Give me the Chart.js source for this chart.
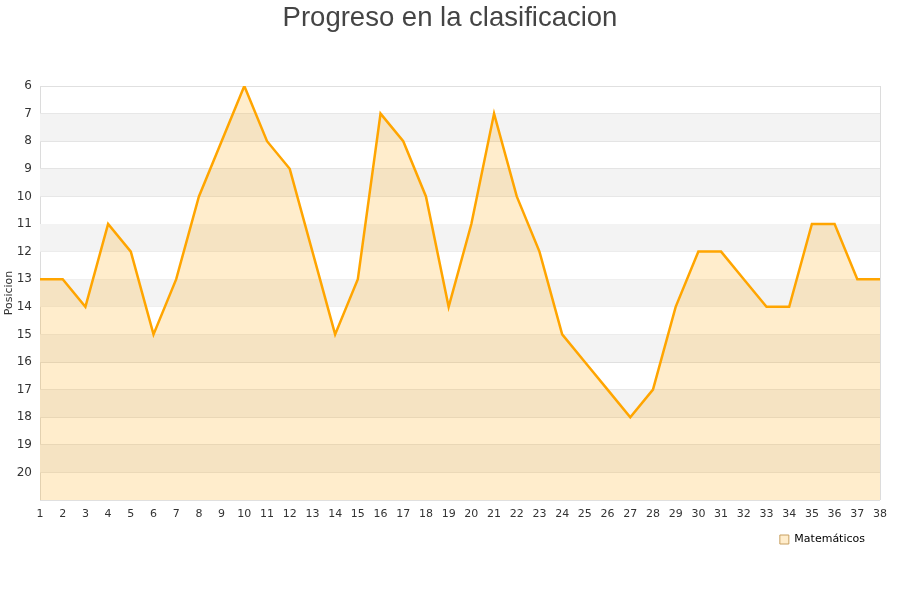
<!DOCTYPE html>
<html>
<head>
<meta charset="utf-8">
<script src="https://cdn.jsdelivr.net/npm/chart.js@4/dist/chart.umd.min.js"></script>
<style>
  html, body { margin: 0; padding: 0; background: #fff; }
  #wrap { width: 900px; height: 600px; }
</style>
</head>
<body>
<div id="wrap"><canvas id="grafico"></canvas></div>
<script>
// Jornadas y posiciones
const jornadas = ['1','2','3','4','5','6','7','8','9','10','11','12','13','14','15','16','17','18','19',
  '20','21','22','23','24','25','26','27','28','29','30','31','32','33','34','35','36','37','38'];
const posiciones = [13, 13, 14, 11, 12, 15, 13, 10, 8, 6, 8, 9, 12, 15, 13, 7, 8, 10, 14,
  11, 7, 10, 12, 15, 16, 17, 18, 17, 14, 12, 12, 13, 14, 14, 11, 11, 13, 13];
const posMin = 6;
const posMax = 21;
const titulo = 'Progreso en la clasificacion';

// Bandas grises alternas (7-8, 9-10, ...)
const bandas = {
  id: 'bandas',
  beforeDatasetsDraw(chart) {
    const { ctx, chartArea, scales } = chart;
    ctx.save();
    ctx.fillStyle = '#f3f3f3';
    for (let v = posMin + 1; v < posMax; v += 2) {
      const y1 = scales.y.getPixelForValue(v);
      const y2 = scales.y.getPixelForValue(v + 1);
      ctx.fillRect(chartArea.left, y1, chartArea.right - chartArea.left, y2 - y1);
    }
    ctx.restore();
  }
};

// Titulo centrado en todo el lienzo
const tituloCentrado = {
  id: 'tituloCentrado',
  afterDraw(chart) {
    const ctx = chart.ctx;
    ctx.save();
    ctx.font = '27.5px "Liberation Sans", Arial';
    ctx.fillStyle = '#444';
    ctx.textAlign = 'center';
    ctx.textBaseline = 'alphabetic';
    ctx.fillText(titulo, chart.width / 2, 26);
    ctx.restore();
  }
};

new Chart(document.getElementById('grafico'), {
  type: 'line',
  data: {
    labels: jornadas,
    datasets: [{
      label: 'Matemáticos',
      data: posiciones,
      borderColor: '#ffa500',
      backgroundColor: 'rgba(255,165,0,0.2)',
      borderWidth: 2.5,
      pointRadius: 0,
      tension: 0,
      fill: { value: posMax }
    }]
  },
  options: {
    responsive: true,
    maintainAspectRatio: false,
    animation: false,
    layout: { padding: { top: 86, left: 3, right: 20, bottom: 45 } },
    plugins: {
      title: { display: false },
      legend: {
        position: 'bottom',
        align: 'end',
        labels: {
          color: '#222',
          font: { family: '"DejaVu Sans"', size: 11 },
          boxWidth: 9,
          boxHeight: 9,
          padding: 15,
          generateLabels: () => [{
            text: 'Matemáticos',
            fillStyle: 'rgba(255,165,0,0.2)',
            strokeStyle: '#c8a060',
            lineWidth: 1
          }]
        }
      },
      tooltip: { enabled: false }
    },
    scales: {
      x: {
        offset: false,
        afterFit: (s) => { s.height = 19; },
        grid: {
          color: (c) => (c.index === 0 || c.index === jornadas.length - 1) ? '#dcdcdc' : 'rgba(0,0,0,0)',
          drawTicks: false
        },
        border: { display: false },
        ticks: {
          color: '#333',
          font: { family: '"DejaVu Sans"', size: 11 },
          maxRotation: 0,
          autoSkip: false,
          padding: 8
        }
      },
      y: {
        reverse: true,
        min: posMin,
        max: posMax,
        afterFit: (s) => { s.width = 37; },
        grid: { color: '#e0e0e0', drawTicks: false },
        border: { display: false },
        title: {
          display: true,
          text: 'Posicion',
          color: '#333',
          font: { family: '"DejaVu Sans"', size: 11 },
          padding: 0
        },
        ticks: {
          stepSize: 1,
          color: '#333',
          font: { family: '"DejaVu Sans"', size: 12 },
          padding: 8,
          callback: (v) => v === posMax ? '' : v
        }
      }
    }
  },
  plugins: [bandas, tituloCentrado]
});
</script>
</body>
</html>
